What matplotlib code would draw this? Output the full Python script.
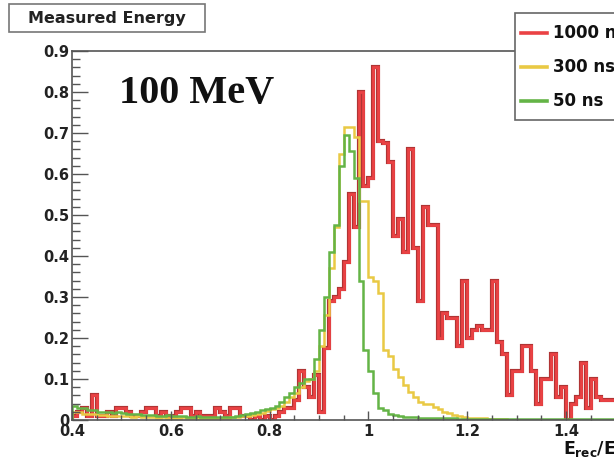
import numpy as np
import matplotlib
matplotlib.use("Agg")
import matplotlib.pyplot as plt
import matplotlib.patheffects as pe
from matplotlib.patches import Rectangle
from matplotlib.ticker import MultipleLocator, FuncFormatter

# ------------------------------------------------
# histogram contents, 0.01 wide bins from 0.40 to 1.50
bin_edges = np.round(0.40 + 0.01 * np.arange(111), 2)

h_1000ns = [
    0.01, 0.02, 0.03, 0.01, 0.06, 0.01, 0.01, 0.02, 0.01, 0.03,
    0.03, 0.02, 0.01, 0.01, 0.02, 0.03, 0.03, 0.01, 0.02, 0.01,
    0.01, 0.02, 0.03, 0.03, 0.01, 0.02, 0.01, 0.01, 0.01, 0.03,
    0.02, 0.01, 0.03, 0.03, 0.01, 0.01, 0.00, 0.01, 0.00, 0.01,
    0.00, 0.01, 0.02, 0.03, 0.03, 0.05, 0.12, 0.08, 0.055, 0.11,
    0.02, 0.175, 0.29, 0.30, 0.32, 0.385, 0.55, 0.47, 0.80, 0.57,
    0.59, 0.86, 0.68, 0.675, 0.63, 0.45, 0.49, 0.41, 0.66, 0.42,
    0.29, 0.52, 0.475, 0.475, 0.20, 0.26, 0.25, 0.25, 0.18, 0.34,
    0.20, 0.22, 0.23, 0.22, 0.22, 0.34, 0.19, 0.16, 0.06, 0.12,
    0.12, 0.18, 0.18, 0.12, 0.04, 0.10, 0.10, 0.16, 0.055, 0.08,
    0.00, 0.04, 0.055, 0.14, 0.03, 0.10, 0.055, 0.05, 0.05, 0.05,
]

h_300ns = [
    0.02, 0.02, 0.015, 0.015, 0.015, 0.012, 0.012, 0.01, 0.01, 0.01,
    0.01, 0.01, 0.008, 0.01, 0.008, 0.008, 0.008, 0.006, 0.008, 0.006,
    0.006, 0.006, 0.008, 0.006, 0.006, 0.005, 0.006, 0.006, 0.005, 0.006,
    0.006, 0.006, 0.008, 0.008, 0.01, 0.01, 0.012, 0.015, 0.018, 0.022,
    0.026, 0.03, 0.035, 0.045, 0.055, 0.065, 0.08, 0.095, 0.10, 0.12,
    0.18, 0.255, 0.37, 0.47, 0.65, 0.715, 0.715, 0.69, 0.535, 0.535,
    0.35, 0.34, 0.31, 0.17, 0.155, 0.125, 0.105, 0.085, 0.068, 0.055,
    0.045, 0.04, 0.04, 0.032, 0.026, 0.02, 0.016, 0.012, 0.01, 0.008,
    0.006, 0.005, 0.004, 0.004, 0.003, 0.003, 0.002, 0.002, 0.001, 0.001,
    0.001, 0.001, 0.0, 0.001, 0.0, 0.0, 0.0, 0.0, 0.0, 0.0,
    0.0, 0.0, 0.0, 0.0, 0.0, 0.0, 0.0, 0.0, 0.0, 0.0,
]

h_50ns = [
    0.035, 0.03, 0.03, 0.025, 0.025, 0.02, 0.02, 0.02, 0.018, 0.02,
    0.018, 0.015, 0.015, 0.015, 0.012, 0.012, 0.012, 0.01, 0.01, 0.012,
    0.01, 0.01, 0.01, 0.008, 0.008, 0.01, 0.008, 0.008, 0.008, 0.008,
    0.008, 0.008, 0.008, 0.01, 0.012, 0.015, 0.018, 0.02, 0.025, 0.028,
    0.03, 0.035, 0.045, 0.055, 0.065, 0.08, 0.09, 0.10, 0.10, 0.15,
    0.22, 0.30, 0.41, 0.475, 0.62, 0.695, 0.655, 0.59, 0.34, 0.17,
    0.12, 0.065, 0.03, 0.025, 0.015, 0.012, 0.01, 0.008, 0.008, 0.007,
    0.006, 0.006, 0.005, 0.005, 0.005, 0.004, 0.004, 0.004, 0.003, 0.003,
    0.003, 0.003, 0.003, 0.003, 0.003, 0.003, 0.003, 0.003, 0.003, 0.003,
    0.002, 0.002, 0.002, 0.002, 0.002, 0.002, 0.002, 0.002, 0.002, 0.002,
    0.002, 0.002, 0.002, 0.002, 0.002, 0.002, 0.002, 0.002, 0.002, 0.002,
]

series_labels = ['1000 ns', '300 ns', '50 ns']
series_colors = ['#ea4244', '#e9c944', '#64b446']

# ------------------------------------------------
plt.rcParams['font.family'] = ['DejaVu Sans']
plt.rcParams['font.weight'] = 'bold'
plt.rcParams['mathtext.fontset'] = 'custom'
plt.rcParams['mathtext.rm'] = 'DejaVu Sans:bold'
plt.rcParams['mathtext.it'] = 'DejaVu Sans:bold'
plt.rcParams['mathtext.bf'] = 'DejaVu Sans:bold'

W, H = 614, 462
fig = plt.figure(figsize=(W / 100, H / 100), dpi=100)
fig.patch.set_facecolor('white')

def fx(px):
    return px / W

def fy(py):
    return 1 - py / H

# frame runs past the right edge of the canvas
x_lo, x_hi = 0.4, 1.59
px_per_unit = 494
ax = fig.add_axes([fx(72), fy(420), fx((x_hi - x_lo) * px_per_unit), 369 / H])
ax.set_xlim(x_lo, x_hi)
ax.set_ylim(0, 0.9)

frame_col = '#555555'
for s in ax.spines.values():
    s.set_color(frame_col)
    s.set_linewidth(1.2)

ax.stairs(h_1000ns, bin_edges, color=series_colors[0], lw=2.0,
          path_effects=[pe.Stroke(linewidth=3.0, foreground='#b03434'), pe.Normal()])
ax.stairs(h_300ns, bin_edges, color=series_colors[1], lw=1.8)
ax.stairs(h_50ns, bin_edges, color=series_colors[2], lw=1.8)

ax.xaxis.set_major_locator(MultipleLocator(0.2))
ax.xaxis.set_minor_locator(MultipleLocator(0.05))
ax.yaxis.set_major_locator(MultipleLocator(0.1))
ax.yaxis.set_minor_locator(MultipleLocator(0.02))
fmt = FuncFormatter(lambda v, p: '%g' % round(v, 2))
ax.xaxis.set_major_formatter(fmt)
ax.yaxis.set_major_formatter(fmt)

ax.tick_params(axis='both', which='both', direction='in', color=frame_col,
               labelcolor='#222222', labelsize=10.5, top=False, right=False)
ax.tick_params(axis='y', which='major', length=11.5, width=1.0, pad=2)
ax.tick_params(axis='y', which='minor', length=5.8, width=1.0)
ax.tick_params(axis='x', which='major', length=6.5, width=1.0, pad=3)
ax.tick_params(axis='x', which='minor', length=3.6, width=1.0)

# x axis title at the end of the axis
fig.text(fx(563), fy(455), r'$E_{rec}/E_{\gamma}$', fontsize=12.5,
         color='#111111', ha='left', va='baseline')

# energy label
fig.text(fx(119), fy(103), '100 MeV', family='Liberation Serif',
         weight='bold', fontsize=29, color='#111111', ha='left', va='baseline')

# title box
fig.patches.append(Rectangle((fx(9), fy(32)), fx(196), 28 / H,
                             transform=fig.transFigure, fc='white',
                             ec='#777777', lw=1.2))
fig.text(fx(107), fy(18), 'Measured Energy', fontsize=11.5,
         color='#222222', ha='center', va='center')

# legend box
fig.patches.append(Rectangle((fx(515), fy(120)), fx(200), 107 / H,
                             transform=fig.transFigure, fc='white',
                             ec='#666666', lw=1.2, zorder=5))
for i, (lab, col) in enumerate(zip(series_labels, series_colors)):
    yy = fy(33 + 34 * i)
    fig.add_artist(plt.Line2D([fx(521), fx(547)], [yy, yy], color=col,
                              lw=2.6, transform=fig.transFigure, zorder=6))
    fig.text(fx(553), yy, lab, fontsize=12, color='#111111',
             ha='left', va='center', zorder=6)

fig.savefig('out.png', dpi=100)
